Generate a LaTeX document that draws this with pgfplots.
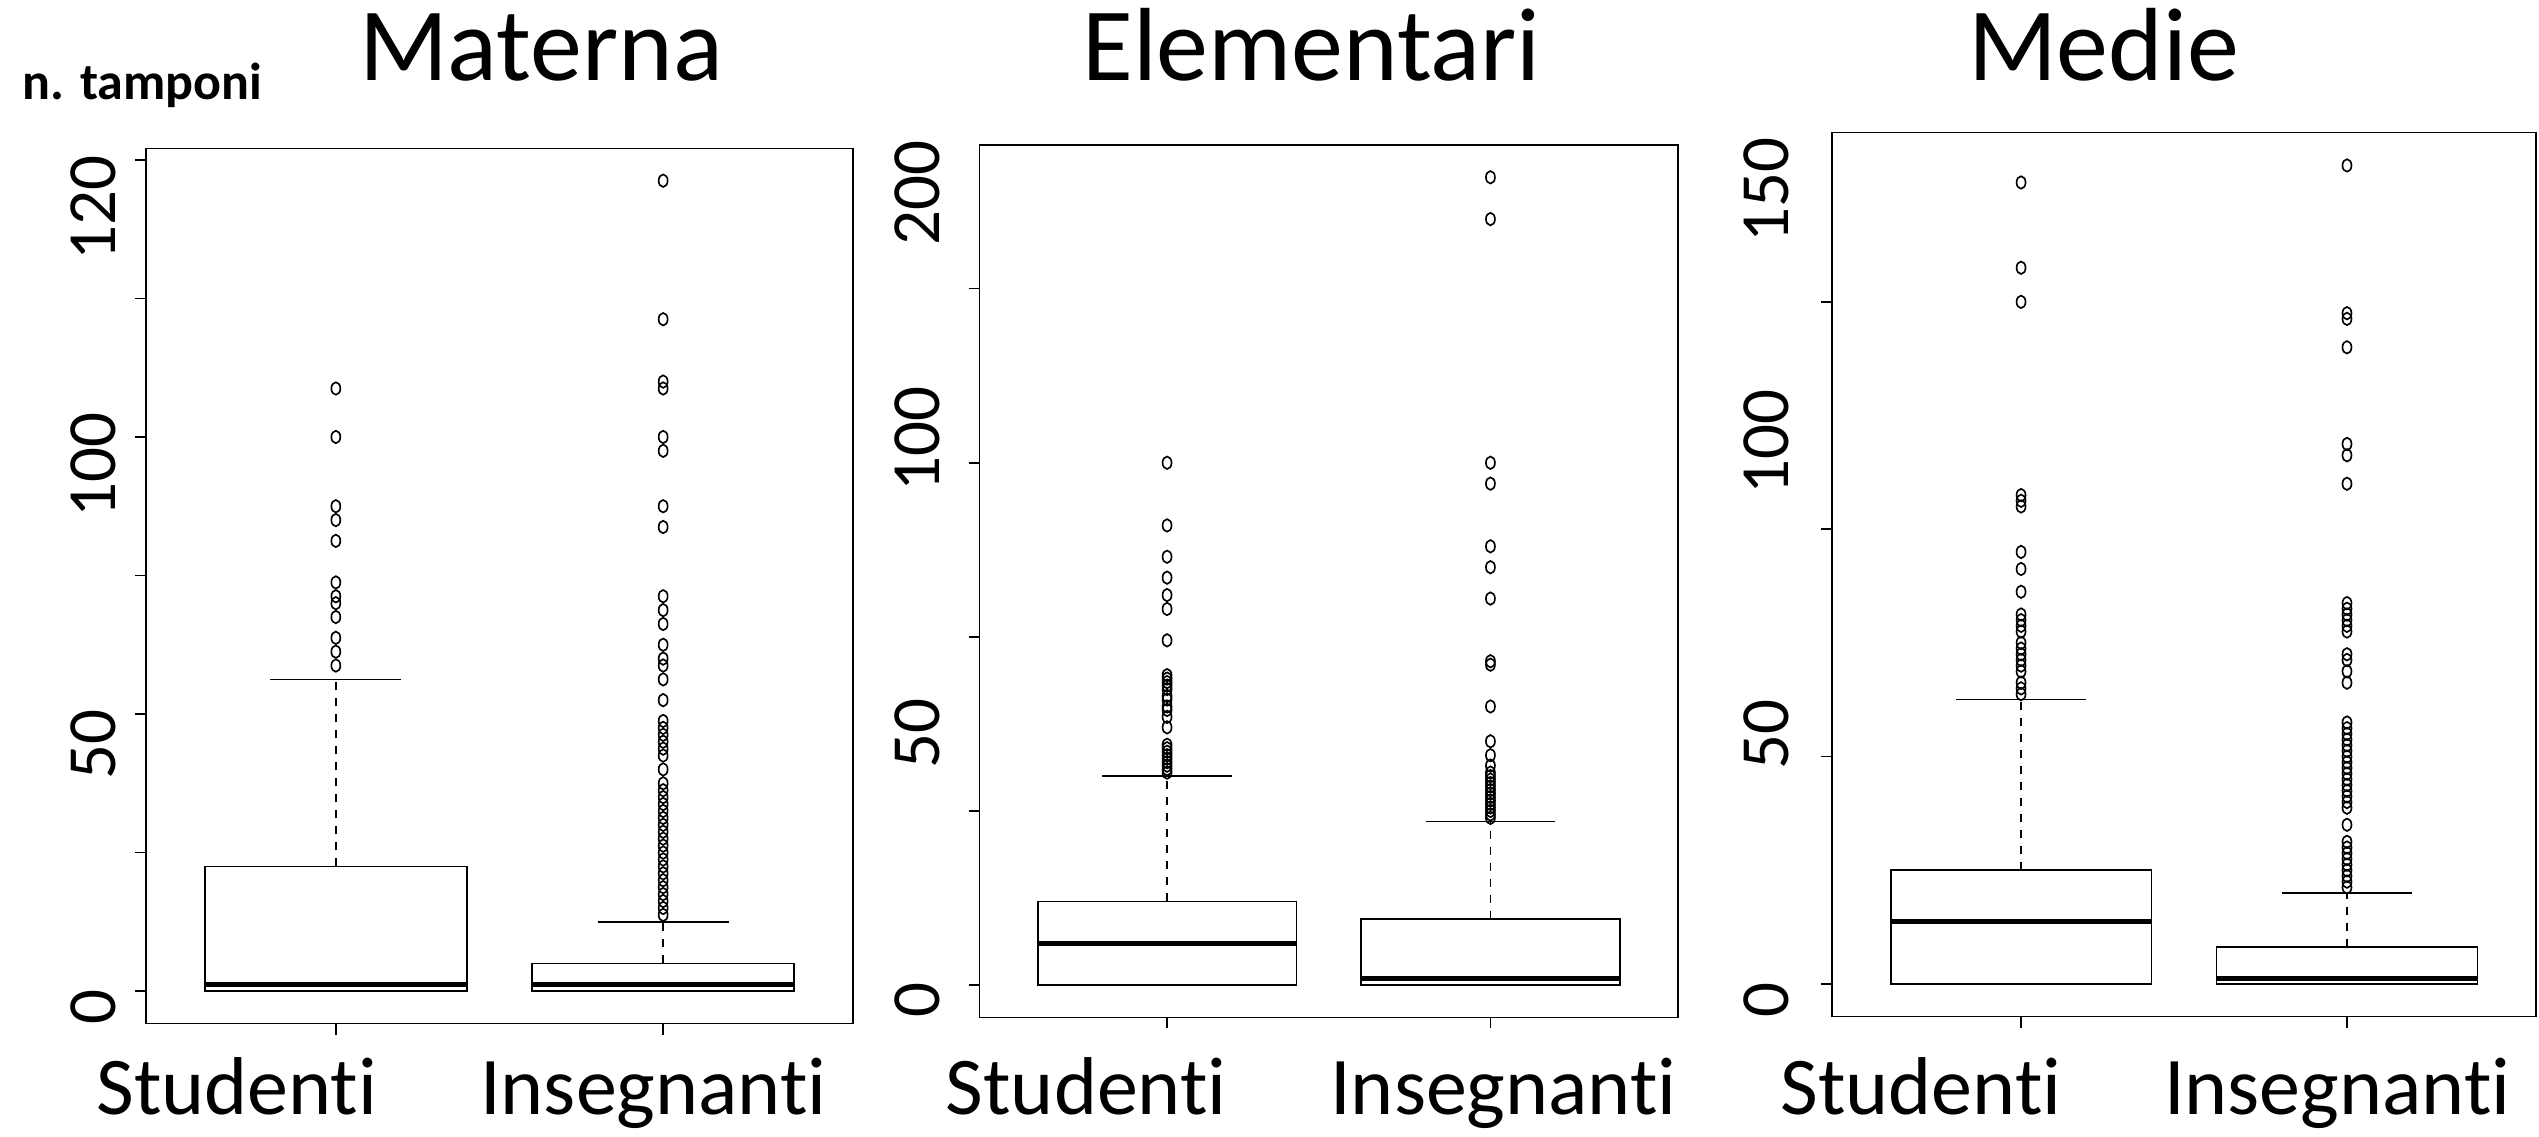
\documentclass[border=0pt]{standalone}
\usepackage{pgfplots}
\pgfplotsset{compat=1.18}
\usepgfplotslibrary{statistics}
\usepackage{fontspec}
\setmainfont{Carlito}[Ligatures={NoCommon}]

\pgfplotsset{
  rbox/.style={
    scale only axis,
    anchor=south west,
    xmin=0.42, xmax=2.58,
    axis line style={line width=0.3pt, black},
    tick align=outside,
    major tick length=2.2pt,
    tick style={line width=0.3pt, black},
    xtick pos=bottom, ytick pos=left,
    xtick={1,2}, xticklabels={},
    yticklabels={},
    extra x tick style={major tick length=0pt,
      xticklabel style={font=\fontsize{16.4}{16.4}\selectfont, anchor=base, inner sep=0pt}},
    extra y tick style={major tick length=0pt,
      yticklabel style={font=\fontsize{13.8}{13.8}\selectfont, rotate=90, anchor=base, inner sep=0pt}},
    boxplot/draw direction=y,
    boxplot/box extend=0.8,
    boxplot/whisker extend=0.4,
    boxplot/every box/.style={line width=0.32pt},
    boxplot/every median/.style={line width=1.0pt},
    boxplot/draw/upper whisker/.code={
      \draw[line width=0.3pt, dash pattern=on 1.6pt off 1.6pt]
        (boxplot box cs:\pgfplotsboxplotvalue{upper quartile},0.5)
        -- (boxplot box cs:\pgfplotsboxplotvalue{upper whisker},0.5);
      \draw[line width=0.3pt]
        (boxplot whisker cs:\pgfplotsboxplotvalue{upper whisker},0)
        -- (boxplot whisker cs:\pgfplotsboxplotvalue{upper whisker},1);
    },
    boxplot/draw/lower whisker/.code={},
  },
  rplot/.style={black, line width=0.32pt, mark=o, mark size=1.25pt,
    mark options={solid, xscale=0.72, line width=0.33pt}},
}

\begin{document}
\begin{tikzpicture}
\path[use as bounding box] (0,0) rectangle (507.8pt,227.2pt);

% ---------------- Materna ----------------
\begin{axis}[rbox, at={(29.2pt,22.5pt)}, width=141.4pt, height=175.04pt,
  ymin=-4.68, ymax=121.68, ytick={0,20,...,120},
  extra y ticks={-2.3,35.6,75.9,113}, extra y tick labels={0,50,100,120},
  extra y tick style={yticklabel shift=6.2pt},
  extra x ticks={0.698,1.97}, extra x tick labels={Studenti,Insegnanti},
  extra x tick style={xticklabel shift=18.2pt}]
\addplot[rplot, boxplot prepared={draw position=1, lower whisker=0, lower quartile=0,
  median=1, upper quartile=18, upper whisker=45}]
  table[row sep=\\, y index=0] {v\\ 87\\ 80\\ 70\\ 68\\ 65\\ 59\\ 57\\ 56\\ 54\\ 51\\ 49\\ 47\\};
\addplot[rplot, boxplot prepared={draw position=2, lower whisker=0, lower quartile=0,
  median=1, upper quartile=4, upper whisker=10}]
  table[row sep=\\, y index=0] {v\\ 117\\ 97\\ 88\\ 87\\ 80\\ 78\\ 70\\ 67\\ 57\\ 55\\ 53\\ 50\\ 48\\ 47\\ 45\\ 42\\ 39\\ 38\\ 37\\ 36\\ 35\\ 34\\ 32\\ 30\\ 29\\ 28\\ 27\\ 26\\ 25\\ 24\\ 23\\ 22\\ 21\\ 20\\ 19\\ 18\\ 17\\ 16\\ 15\\ 14\\ 13\\ 12\\ 11\\};
\end{axis}

% ---------------- Elementari ----------------
\begin{axis}[rbox, at={(195.9pt,23.74pt)}, width=139.7pt, height=174.46pt,
  ymin=-9.28, ymax=241.28, ytick={0,50,...,200},
  extra y ticks={-4.3,72.3,156.7,227.5}, extra y tick labels={0,50,100,200},
  extra y tick style={yticklabel shift=8pt},
  extra x ticks={0.75,2.04}, extra x tick labels={Studenti,Insegnanti},
  extra x tick style={xticklabel shift=19.4pt}]
\addplot[rplot, boxplot prepared={draw position=1, lower whisker=0, lower quartile=0,
  median=12, upper quartile=24, upper whisker=60}]
  table[row sep=\\, y index=0] {v\\ 150\\ 132\\ 123\\ 117\\ 112\\ 108\\ 99\\ 89\\ 88\\ 87\\ 86\\ 85\\ 83\\ 82\\ 80\\ 79\\ 77\\ 74\\ 69\\ 68\\ 67\\ 66\\ 65\\ 64\\ 63\\ 62\\ 61\\};
\addplot[rplot, boxplot prepared={draw position=2, lower whisker=0, lower quartile=0,
  median=2, upper quartile=19, upper whisker=47}]
  table[row sep=\\, y index=0] {v\\ 232\\ 220\\ 150\\ 144\\ 126\\ 120\\ 111\\ 93\\ 92\\ 80\\ 70\\ 66\\ 63\\ 61\\ 60\\ 59\\ 58\\ 57\\ 56\\ 55\\ 54\\ 53\\ 52\\ 51\\ 50\\ 49\\ 48\\};
\end{axis}

% ---------------- Medie ----------------
\begin{axis}[rbox, at={(366.4pt,23.86pt)}, width=140.8pt, height=176.8pt,
  ymin=-5.76, ymax=149.76, ytick={0,40,...,120},
  extra y ticks={-2.8,43.8,95.4,139.7}, extra y tick labels={0,50,100,150},
  extra y tick style={yticklabel shift=8.8pt},
  extra x ticks={0.693,1.97}, extra x tick labels={Studenti,Insegnanti},
  extra x tick style={xticklabel shift=19.5pt}]
\addplot[rplot, boxplot prepared={draw position=1, lower whisker=0, lower quartile=0,
  median=11, upper quartile=20, upper whisker=50}]
  table[row sep=\\, y index=0] {v\\ 141\\ 126\\ 120\\ 86\\ 85\\ 84\\ 76\\ 73\\ 69\\ 65\\ 64\\ 63\\ 62\\ 60\\ 59\\ 58\\ 57\\ 56\\ 55\\ 53\\ 52\\ 51\\};
\addplot[rplot, boxplot prepared={draw position=2, lower whisker=0, lower quartile=0,
  median=1, upper quartile=6.5, upper whisker=16}]
  table[row sep=\\, y index=0] {v\\ 144\\ 118\\ 117\\ 112\\ 95\\ 93\\ 88\\ 67\\ 66\\ 65\\ 64\\ 63\\ 62\\ 58\\ 57\\ 55\\ 53\\ 46\\ 45\\ 44\\ 43\\ 42\\ 41\\ 40\\ 39\\ 38\\ 37\\ 36\\ 35\\ 34\\ 33\\ 32\\ 31\\ 28\\ 25\\ 24\\ 23\\ 22\\ 21\\ 20\\ 19\\ 18\\ 17\\};
\end{axis}

% titles
\node[anchor=base, inner sep=0pt, font=\fontsize{20.8}{20.8}\selectfont] at (108.2pt,211.1pt) {Materna};
\node[anchor=base, inner sep=0pt, font=\fontsize{20.8}{20.8}\selectfont] at (262.3pt,211.1pt) {Elementari};
\node[anchor=base, inner sep=0pt, font=\fontsize{20.8}{20.8}\selectfont] at (420.7pt,211.1pt) {Medie};
\node[anchor=base west, inner sep=0pt, font=\bfseries\fontsize{10.4}{10.4}\selectfont] at (4.34pt,207.3pt) {n. tamponi};
\end{tikzpicture}
\end{document}
